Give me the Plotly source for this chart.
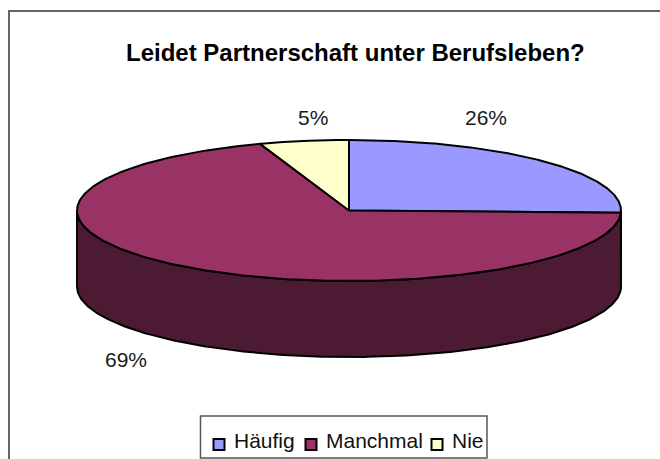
import numpy as np
import plotly.graph_objects as go

# Data
categories = ["Häufig", "Manchmal", "Nie"]
values = [25.5, 69.2, 5.3]
top_colors = ["#9999FF", "#993366", "#FFFFCC"]
side_colors = ["#4D4D80", "#4D1A33", "#808066"]
title_text = "Leidet Partnerschaft unter Berufsleben?"

# Geometry of the tilted pie, in canvas pixels
W, H = 660, 459
CX, CY, RX, RY, DEPTH = 349, 210.5, 272, 70.5, 76
FONT = "Liberation Sans, Arial, sans-serif"
label_pos = [(486, 117), (126, 359), (313, 117)]
legend_icon_x = [219, 311, 437]
legend_text_x = [231.5, 323.5, 449.5]
LEGEND_ICON_Y, LEGEND_TEXT_Y = 444.5, 440.5
frame_x = [9, 9, 670]
frame_y = [470, 11, 11]


def ell(theta):
    """theta: degrees clockwise from 12 o'clock"""
    t = np.radians(theta)
    return CX + RX * np.sin(t), CY - RY * np.cos(t)


fig = go.Figure()

# Chart frame (continues past the right and bottom of the picture)
fig.add_trace(go.Scatter(x=frame_x, y=frame_y, mode="lines", hoverinfo="skip", showlegend=False,
                         line=dict(color="#666666", width=2)))

total = sum(values)
edges = np.concatenate([[0], np.cumsum(values)]) / total * 360

# Side walls (visible front half only: 90..270 degrees)
for i, cat in enumerate(categories):
    a, b = max(edges[i], 90), min(edges[i + 1], 270)
    if b <= a:
        continue
    th = np.linspace(a, b, 240)
    x, y = ell(th)
    px = np.concatenate([x, x[::-1], x[:1]])
    py = np.concatenate([y, y[::-1] + DEPTH, y[:1]])
    fig.add_trace(go.Scatter(x=px, y=py, mode="lines", fill="toself",
                             fillcolor=side_colors[i],
                             line=dict(color="black", width=2),
                             hoverinfo="skip", showlegend=False))

# Top faces
for i, cat in enumerate(categories):
    th = np.linspace(edges[i], edges[i + 1], 240)
    x, y = ell(th)
    px = np.concatenate([[CX], x, [CX]])
    py = np.concatenate([[CY], y, [CY]])
    fig.add_trace(go.Scatter(x=px, y=py, mode="lines", fill="toself",
                             fillcolor=top_colors[i],
                             line=dict(color="black", width=2),
                             name=cat, showlegend=False, hoverinfo="name"))

# Legend keys
for i, cat in enumerate(categories):
    fig.add_trace(go.Scatter(x=[legend_icon_x[i]], y=[LEGEND_ICON_Y], mode="markers", name=cat,
                             showlegend=False, hoverinfo="name",
                             marker=dict(symbol="square", size=11, color=top_colors[i],
                                         line=dict(color="black", width=2))))

annotations = [
    dict(x=p[0], y=p[1], text=f"{v:.0f}%", showarrow=False, xref="x", yref="y",
         font=dict(family=FONT, size=21, color="#1a1a1a"))
    for p, v in zip(label_pos, values)
]
annotations += [
    dict(x=lx, y=LEGEND_TEXT_Y, text=cat, showarrow=False, xref="x", yref="y", xanchor="left",
         font=dict(family=FONT, size=21, color="#111111"))
    for lx, cat in zip(legend_text_x, categories)
]
annotations.append(dict(x=355, y=52, text=title_text, showarrow=False, xref="x", yref="y",
                        font=dict(family=FONT, size=24, color="black", weight="bold")))

shapes = [
    dict(type="rect", xref="x", yref="y", x0=200.5, y0=416, x1=487, y1=458,
         line=dict(color="#555555", width=1.5), fillcolor="white", layer="below"),
]

fig.update_layout(
    width=W, height=H, autosize=False,
    margin=dict(l=0, r=0, t=0, b=0),
    paper_bgcolor="white", plot_bgcolor="white",
    xaxis=dict(range=[0, W], visible=False, fixedrange=True),
    yaxis=dict(range=[H, 0], visible=False, fixedrange=True),
    annotations=annotations, shapes=shapes,
    showlegend=False,
)

fig.write_html("out.html", config=dict(displayModeBar=False),
               post_script="document.body.style.margin='0';document.body.style.overflow='hidden';")
